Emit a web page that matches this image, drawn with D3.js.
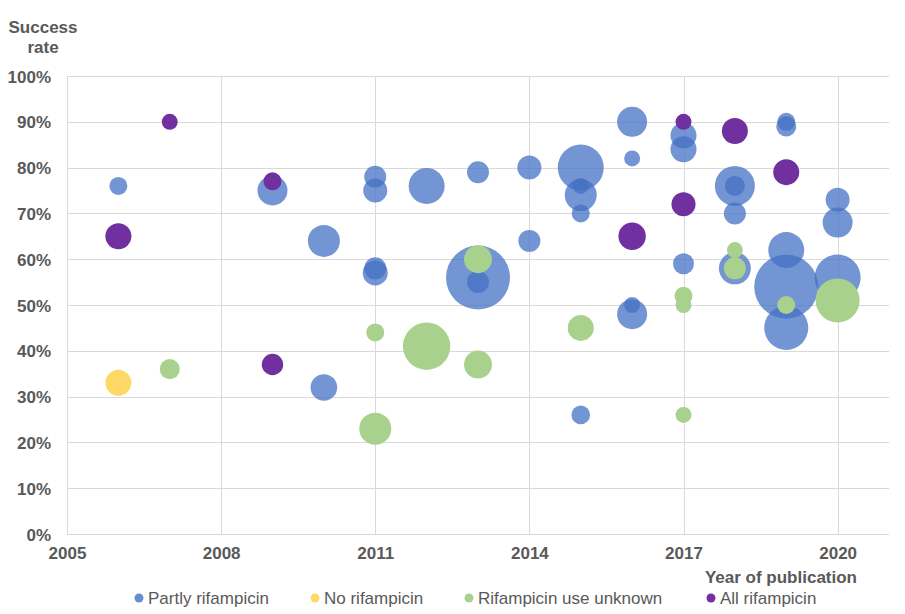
<!DOCTYPE html>
<html>
<head>
<meta charset="utf-8">
<script src="https://cdn.jsdelivr.net/npm/d3@7"></script>
<style>
  html, body { margin: 0; padding: 0; background: #fff; }
  svg { display: block; font-family: "Liberation Sans", Arial, sans-serif; }
</style>
</head>
<body>
<svg id="chart" width="905" height="614"></svg>
<script>
// ---- Data ----
const seriesNames = ["Partly rifampicin", "No rifampicin", "Rifampicin use unknown", "All rifampicin"];
const seriesColors = ["#4472C4", "#FFD966", "#A9D18E", "#7030A0"];

const partlyYears = [2006, 2009, 2010, 2010, 2011, 2011, 2011, 2011, 2012, 2013, 2013, 2013, 2014, 2014, 2015, 2015, 2015, 2015, 2015, 2016, 2016, 2016, 2016, 2017, 2017, 2017, 2018, 2018, 2018, 2018, 2019, 2019, 2019, 2019, 2019, 2020, 2020, 2020];
const partlyRates = [76, 75, 64, 32, 78, 75, 58, 57, 76, 79, 56, 55, 80, 64, 80, 76, 74, 70, 26, 90, 82, 50, 48, 87, 84, 59, 76, 76, 70, 58, 90, 89, 62, 54, 45, 73, 68, 56];
const partlySizes = [79, 220, 250, 173, 118, 141, 118, 153, 316, 118, 1000, 118, 141, 118, 517, 62, 250, 79, 85, 220, 62, 62, 220, 165, 165, 108, 391, 98, 118, 250, 79, 98, 316, 1000, 473, 141, 220, 517];

const noYears = [2006];
const noRates = [33];
const noSizes = [165];

const unknownYears = [2007, 2011, 2011, 2012, 2013, 2013, 2015, 2017, 2017, 2017, 2018, 2018, 2019, 2020];
const unknownRates = [36, 44, 23, 41, 37, 60, 45, 52, 50, 26, 62, 58, 50, 51];
const unknownSizes = [98, 79, 250, 548, 191, 191, 165, 79, 62, 62, 62, 118, 79, 473];

const allYears = [2006, 2007, 2009, 2009, 2016, 2017, 2017, 2018, 2019];
const allRates = [65, 90, 77, 37, 65, 90, 72, 88, 79];
const allSizes = [165, 62, 79, 112, 183, 62, 141, 165, 165];

const xTicks = [2005, 2008, 2011, 2014, 2017, 2020];
const yTicks = [0, 10, 20, 30, 40, 50, 60, 70, 80, 90, 100];

// ---- Build ----
(function () {
function zipSeries(years, rates, sizes, idx) {
  return years.map((yr, i) => ({ year: yr, rate: rates[i], size: sizes[i], s: idx }));
}
const series = [
  zipSeries(partlyYears, partlyRates, partlySizes, 0),
  zipSeries(noYears, noRates, noSizes, 1),
  zipSeries(unknownYears, unknownRates, unknownSizes, 2),
  zipSeries(allYears, allRates, allSizes, 3)
];
const seriesOpacity = [0.75, 1, 1, 1];

const svg = d3.select("#chart");
const pL = 67, pR = 889, pT = 76, pB = 534;
const grey = "#595959";
const gridColor = "#D9D9D9";

const x = d3.scaleLinear().domain([2005, 2021]).range([pL, pR]);
const y = d3.scaleLinear().domain([0, 100]).range([pB, pT]);
const r = d3.scaleSqrt().domain([0, 1000]).range([0, 32]);

// Horizontal gridlines
svg.append("g").selectAll("line").data(yTicks).join("line")
  .attr("x1", pL).attr("x2", pR)
  .attr("y1", d => Math.round(y(d)) + 0.5).attr("y2", d => Math.round(y(d)) + 0.5)
  .attr("stroke", gridColor).attr("stroke-width", 1);

// Vertical gridlines
svg.append("g").selectAll("line").data(xTicks).join("line")
  .attr("x1", d => Math.round(x(d)) + 0.5).attr("x2", d => Math.round(x(d)) + 0.5)
  .attr("y1", pT).attr("y2", pB)
  .attr("stroke", gridColor).attr("stroke-width", 1);

// Axes (labels via d3 axes)
const yAxis = d3.axisLeft(y).tickValues(yTicks).tickFormat(d => d + "%").tickSize(0).tickPadding(0);
const gy = svg.append("g").attr("transform", "translate(51,0)").call(yAxis);
gy.select(".domain").remove();
gy.selectAll("text").attr("font-size", 17).attr("font-weight", "bold").attr("fill", grey)
  .attr("font-family", "Liberation Sans, Arial, sans-serif").attr("dy", "0.36em");

const xAxis = d3.axisBottom(x).tickValues(xTicks).tickFormat(d3.format("d")).tickSize(0).tickPadding(0);
const gx = svg.append("g").attr("transform", "translate(0,547)").call(xAxis);
gx.select(".domain").remove();
gx.selectAll("text").attr("font-size", 17).attr("font-weight", "bold").attr("fill", grey)
  .attr("font-family", "Liberation Sans, Arial, sans-serif").attr("dy", "0.71em");

// Bubbles
series.forEach((data, si) => {
  svg.append("g").selectAll("circle").data(data).join("circle")
    .attr("cx", d => x(d.year))
    .attr("cy", d => y(d.rate))
    .attr("r", d => r(d.size))
    .attr("fill", seriesColors[si])
    .attr("fill-opacity", seriesOpacity[si]);
});

// Axis titles
const yTitle = svg.append("text").attr("text-anchor", "middle").attr("font-size", 17)
  .attr("font-weight", "bold").attr("fill", grey);
yTitle.append("tspan").attr("x", 43).attr("y", 33).text("Success");
yTitle.append("tspan").attr("x", 43).attr("y", 53).text("rate");

svg.append("text").attr("x", 857).attr("y", 583).attr("text-anchor", "end")
  .attr("font-size", 17).attr("font-weight", "bold").attr("fill", grey)
  .text("Year of publication");

// Legend
const legendX = [139, 315, 469, 711];
const lg = svg.append("g").selectAll("g").data(seriesNames).join("g")
  .attr("transform", (d, i) => `translate(${legendX[i]},598)`);
lg.append("circle").attr("r", 4.5).attr("fill", (d, i) => seriesColors[i])
  .attr("fill-opacity", (d, i) => i === 0 ? 0.8 : 1);
lg.append("text").attr("x", 9).attr("y", 5.5).attr("font-size", 17).attr("fill", grey)
  .text(d => d);
})();
</script>
</body>
</html>
